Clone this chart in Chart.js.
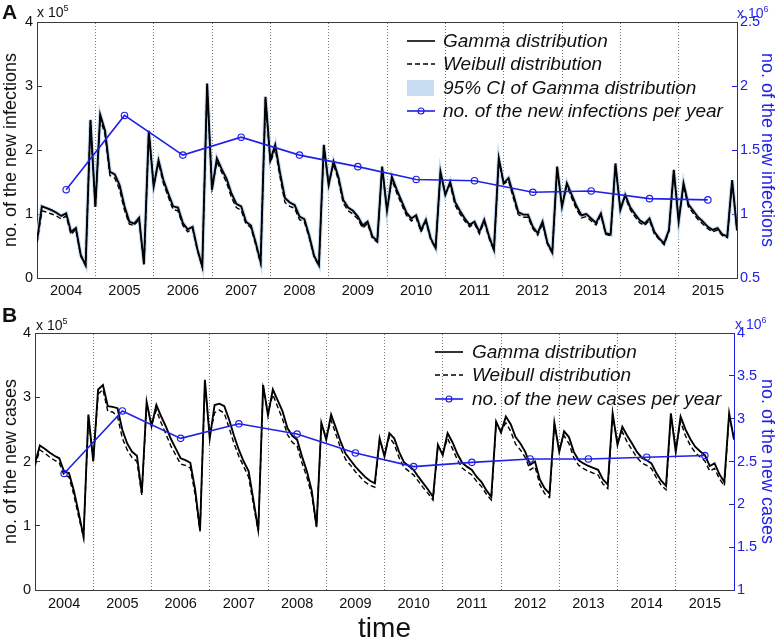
<!DOCTYPE html>
<html>
<head>
<meta charset="utf-8">
<script src="https://cdn.jsdelivr.net/npm/chart.js@4.4.0/dist/chart.umd.min.js"></script>
<style>
  body { margin: 0; background: #fff; font-family: "Liberation Sans", Arial, sans-serif; }
  #wrap { position: relative; width: 778px; height: 644px; overflow: hidden; }
  canvas { position: absolute; left: 0; }
  #cA { top: 0; }
  #cB { top: 300px; }
  .txt { position: absolute; white-space: nowrap; color: #111; }
  .pan { font-weight: bold; font-size: 21px; }
  .exp { font-size: 14px; }
  .exp sup { font-size: 9px; }
  .blue { color: #2a2aee; }
  .leg { position: absolute; font-style: italic; font-size: 19px; color: #111; }
  .leg div { height: 23.5px; display: flex; align-items: center; }
  .leg svg { flex: none; }
</style>
</head>
<body>
<div id="wrap">
  <canvas id="cA" width="778" height="300"></canvas>
  <canvas id="cB" width="778" height="344"></canvas>

  <div class="txt pan" style="left:2px;top:0px">A</div>
  <div class="txt pan" style="left:2px;top:303px">B</div>
  <div class="txt exp" style="left:37px;top:3px">x 10<sup>5</sup></div>
  <div class="txt exp blue" style="left:737px;top:4px">x 10<sup>6</sup></div>
  <div class="txt exp" style="left:36px;top:316px">x 10<sup>5</sup></div>
  <div class="txt exp blue" style="left:735px;top:315px">x 10<sup>6</sup></div>

  <div class="leg" style="left:405px;top:29px">
    <div><svg width="38" height="20"><line x1="2" y1="10" x2="30" y2="10" stroke="#000" stroke-width="1.6"/></svg><span>Gamma distribution</span></div>
    <div><svg width="38" height="20"><line x1="2" y1="10" x2="30" y2="10" stroke="#000" stroke-width="1.4" stroke-dasharray="5,3"/></svg><span>Weibull distribution</span></div>
    <div><svg width="38" height="20"><rect x="2" y="2" width="27" height="16" fill="#c8dcf2"/></svg><span>95% CI of Gamma distribution</span></div>
    <div><svg width="38" height="20"><line x1="2" y1="10" x2="30" y2="10" stroke="#2020e8" stroke-width="1.6"/><circle cx="16" cy="10" r="3" fill="none" stroke="#2020e8" stroke-width="1.2"/></svg><span>no. of the new infections per year</span></div>
  </div>

  <div class="leg" style="left:433px;top:340px">
    <div><svg width="39" height="20"><line x1="2" y1="10" x2="30" y2="10" stroke="#000" stroke-width="1.6"/></svg><span>Gamma distribution</span></div>
    <div><svg width="39" height="20"><line x1="2" y1="10" x2="30" y2="10" stroke="#000" stroke-width="1.4" stroke-dasharray="5,3"/></svg><span>Weibull distribution</span></div>
    <div><svg width="39" height="20"><line x1="2" y1="10" x2="30" y2="10" stroke="#2020e8" stroke-width="1.6"/><circle cx="16" cy="10" r="3" fill="none" stroke="#2020e8" stroke-width="1.2"/></svg><span>no. of the new cases per year</span></div>
  </div>
</div>

<script>
// monthly values, index 0 = Jan 2004 ... 144 = Jan 2016
// panel A: new infections (x 10^5)
const gammaA = [
  0.58,1.12,1.09,1.06,1.02,0.97,1.01,0.72,0.78,0.36,0.20,2.47,
  1.11,2.55,2.30,1.66,1.62,1.45,1.12,0.88,0.85,0.94,0.22,2.30,
  1.43,1.84,1.53,1.32,1.12,1.10,0.86,0.76,0.80,0.45,0.18,3.04,
  1.38,1.87,1.70,1.55,1.32,1.16,1.12,0.88,0.82,0.55,0.25,2.83,
  1.84,2.08,1.64,1.25,1.18,1.14,0.96,0.92,0.66,0.35,0.20,2.08,
  1.45,1.82,1.58,1.22,1.10,1.05,0.96,0.82,0.88,0.65,0.58,1.74,
  1.05,1.58,1.38,1.20,1.02,0.93,0.98,0.75,0.91,0.62,0.47,1.66,
  1.30,1.50,1.19,1.05,0.93,0.83,0.88,0.72,0.91,0.65,0.44,1.87,
  1.48,1.56,1.30,1.03,0.99,0.99,0.80,0.70,0.88,0.55,0.40,1.74,
  1.11,1.48,1.30,1.12,0.98,1.00,0.93,0.86,1.01,0.70,0.68,1.79,
  1.06,1.30,1.11,1.00,0.90,0.85,0.93,0.72,0.62,0.54,0.75,1.69,
  0.88,1.48,1.15,1.05,0.95,0.88,0.80,0.75,0.78,0.68,0.65,1.53,
  0.75
];
const weibullA = [
  0.55,1.05,1.03,1.00,0.97,0.92,0.97,0.68,0.76,0.34,0.20,2.45,
  1.12,2.50,2.24,1.60,1.56,1.38,1.06,0.84,0.82,0.92,0.21,2.28,
  1.45,1.80,1.48,1.27,1.07,1.05,0.82,0.72,0.77,0.43,0.17,3.00,
  1.40,1.82,1.65,1.49,1.26,1.10,1.06,0.84,0.79,0.52,0.23,2.80,
  1.80,2.02,1.58,1.18,1.12,1.09,0.91,0.88,0.63,0.33,0.19,2.05,
  1.48,1.78,1.53,1.17,1.05,1.00,0.92,0.78,0.85,0.62,0.56,1.72,
  1.08,1.54,1.33,1.15,0.98,0.89,0.94,0.72,0.88,0.60,0.46,1.64,
  1.32,1.46,1.14,1.00,0.89,0.80,0.85,0.69,0.88,0.62,0.43,1.84,
  1.47,1.52,1.25,0.99,0.95,0.95,0.77,0.67,0.85,0.53,0.39,1.72,
  1.14,1.45,1.25,1.07,0.94,0.96,0.89,0.83,0.98,0.68,0.66,1.76,
  1.09,1.27,1.07,0.96,0.86,0.82,0.90,0.69,0.60,0.52,0.73,1.66,
  0.92,1.44,1.11,1.01,0.91,0.84,0.77,0.72,0.75,0.66,0.63,1.50,
  0.74
];
// panel B: new cases (x 10^5)
const gammaB = [
  1.97,2.25,2.20,2.14,2.09,2.05,1.84,1.82,1.55,1.20,0.83,2.73,
  2.00,3.12,3.19,2.86,2.85,2.83,2.49,2.28,2.15,2.09,1.51,2.93,
  2.55,2.88,2.70,2.54,2.35,2.20,2.05,2.02,1.98,1.56,0.93,3.27,
  2.36,2.88,2.90,2.86,2.65,2.40,2.18,2.00,1.85,1.40,0.93,3.19,
  2.72,3.12,2.95,2.78,2.52,2.40,2.34,2.08,1.85,1.55,0.99,2.60,
  2.34,2.73,2.52,2.30,2.12,2.02,1.92,1.84,1.76,1.70,1.66,2.36,
  2.08,2.44,2.36,2.15,1.99,1.93,1.87,1.76,1.66,1.56,1.45,2.26,
  2.10,2.44,2.30,2.12,1.98,1.92,1.87,1.76,1.68,1.55,1.45,2.62,
  2.45,2.70,2.58,2.38,2.28,2.15,1.95,2.00,1.72,1.58,1.50,2.60,
  2.15,2.47,2.38,2.15,2.02,1.97,1.93,1.90,1.87,1.72,1.64,2.75,
  2.26,2.54,2.40,2.28,2.15,2.06,2.02,1.97,1.82,1.70,1.62,2.75,
  2.15,2.70,2.50,2.35,2.23,2.16,2.10,1.93,1.97,1.80,1.68,2.75,
  2.34
];
const weibullB = [
  1.93,2.18,2.13,2.07,2.02,1.98,1.78,1.76,1.48,1.14,0.82,2.70,
  2.02,3.05,3.12,2.78,2.77,2.70,2.36,2.18,2.06,2.00,1.48,2.90,
  2.58,2.80,2.60,2.42,2.24,2.10,1.96,1.94,1.90,1.48,0.91,3.22,
  2.40,2.76,2.80,2.75,2.52,2.28,2.08,1.92,1.76,1.33,0.91,3.15,
  2.76,3.04,2.85,2.66,2.42,2.30,2.24,1.98,1.76,1.48,0.98,2.58,
  2.38,2.64,2.42,2.20,2.03,1.94,1.84,1.76,1.68,1.63,1.60,2.34,
  2.12,2.38,2.27,2.06,1.91,1.85,1.79,1.69,1.59,1.50,1.40,2.24,
  2.14,2.36,2.20,2.03,1.90,1.84,1.79,1.69,1.61,1.49,1.40,2.60,
  2.48,2.60,2.47,2.27,2.18,2.06,1.87,1.92,1.64,1.50,1.44,2.58,
  2.20,2.40,2.28,2.06,1.94,1.89,1.85,1.82,1.79,1.65,1.58,2.72,
  2.30,2.46,2.30,2.18,2.06,1.98,1.94,1.89,1.75,1.63,1.56,2.72,
  2.20,2.62,2.40,2.25,2.14,2.07,2.01,1.85,1.89,1.73,1.62,2.72,
  2.36
];

const years = [2004,2005,2006,2007,2008,2009,2010,2011,2012,2013,2014,2015];
// yearly totals (x 10^6), plotted at mid-year
const infectionsPerYear = [1.19,1.77,1.46,1.60,1.46,1.37,1.27,1.26,1.17,1.18,1.12,1.11];
const casesPerYear = [2.36,3.09,2.77,2.94,2.82,2.60,2.44,2.49,2.53,2.53,2.55,2.57];

const ticksLeft = [0,1,2,3,4];
const ticksRightA = [0.5,1,1.5,2,2.5];
const ticksRightB = [1,1.5,2,2.5,3,3.5,4];

const BLUE = '#2020e8';
const AXIS = '#3a3a3a';
const FONT = '"Liberation Sans", Arial, sans-serif';

const midYear = years.map((y, k) => 6 + 12 * k);
const yearEdge = years.slice(1).map((y, k) => 12 * (k + 1));
const pts = arr => arr.map((v, i) => ({x: i, y: v}));

function makePanel(id, o) {
  const datasets = [
    {
      label: o.yearLabel, data: o.yearly.map((v, k) => ({x: midYear[k], y: v})),
      yAxisID: 'y2', borderColor: BLUE, borderWidth: 1.6,
      pointRadius: 3.2, pointBorderWidth: 1.2, pointBorderColor: BLUE,
      pointBackgroundColor: 'rgba(0,0,0,0)', tension: 0
    },
    {
      label: 'Gamma distribution', data: pts(o.gamma), yAxisID: 'y',
      borderColor: '#000', borderWidth: 1.9, pointRadius: 0, tension: 0
    },
    {
      label: 'Weibull distribution', data: pts(o.weibull), yAxisID: 'y',
      borderColor: '#000', borderWidth: 1.4, borderDash: [5, 3], pointRadius: 0, tension: 0
    }
  ];
  if (o.ci) {
    datasets.push({
      label: '95% CI of Gamma distribution', data: pts(o.gamma), yAxisID: 'y',
      borderColor: '#c8dcf2', borderWidth: 4, pointRadius: 0, tension: 0
    });
  }

  return new Chart(document.getElementById(id), {
    type: 'line',
    data: {datasets: datasets},
    options: {
      responsive: false,
      animation: false,
      layout: {padding: 0},
      plugins: {legend: {display: false}, tooltip: {enabled: false}},
      scales: {
        x: {
          type: 'linear', position: 'bottom', min: 0, max: 144,
          afterBuildTicks: s => { s.ticks = midYear.map(v => ({value: v})); },
          afterFit: s => { s.height = o.bottomH; },
          ticks: {
            autoSkip: false, maxRotation: 0, padding: o.xPad, color: '#111',
            font: {family: FONT, size: 14.5},
            callback: v => years[Math.round((v - 6) / 12)]
          },
          grid: {display: false, drawTicks: false},
          border: {color: AXIS},
          title: {display: !!o.xTitle, text: o.xTitle || '', color: '#111',
                  font: {family: FONT, size: 28, lineHeight: 1.0}, padding: {top: 0, bottom: 1}}
        },
        xTop: {
          type: 'linear', position: 'top', min: 0, max: 144,
          afterBuildTicks: s => { s.ticks = yearEdge.map(v => ({value: v})); },
          afterFit: s => { s.height = o.topH; },
          ticks: {display: false},
          grid: {color: '#777', lineWidth: 1, drawTicks: false},
          border: {color: AXIS, dash: [1, 2]}
        },
        y: {
          position: 'left', min: 0, max: 4,
          afterBuildTicks: s => { s.ticks = ticksLeft.map(v => ({value: v})); },
          afterFit: s => { s.width = o.leftW; },
          ticks: {color: '#111', font: {family: FONT, size: 14.5}, padding: 9},
          grid: {drawOnChartArea: false, drawTicks: true, tickLength: -5, tickColor: AXIS},
          border: {color: AXIS},
          title: {display: true, text: o.leftTitle, color: '#111',
                  font: {family: FONT, size: 18}, padding: 0}
        },
        y2: {
          position: 'right', min: o.rightTicks[0], max: o.rightTicks[o.rightTicks.length - 1],
          afterBuildTicks: s => { s.ticks = o.rightTicks.map(v => ({value: v})); },
          afterFit: s => { s.width = o.rightW; },
          ticks: {color: BLUE, font: {family: FONT, size: 14.5}, padding: 8,
                  callback: v => String(v)},
          grid: {drawOnChartArea: false, drawTicks: true, tickLength: -5, tickColor: BLUE},
          border: {color: BLUE},
          title: {display: true, text: o.rightTitle, color: BLUE,
                  font: {family: FONT, size: 18}, padding: 0}
        }
      }
    }
  });
}

makePanel('cA', {
  gamma: gammaA, weibull: weibullA, yearly: infectionsPerYear, ci: true,
  yearLabel: 'no. of the new infections per year',
  leftTitle: 'no. of the new infections', rightTitle: 'no. of the new infections',
  rightTicks: ticksRightA,
  topH: 22, bottomH: 22, leftW: 37, rightW: 41, xPad: 4
});

makePanel('cB', {
  gamma: gammaB, weibull: weibullB, yearly: casesPerYear, ci: false,
  yearLabel: 'no. of the new cases per year',
  leftTitle: 'no. of the new cases', rightTitle: 'no. of the new cases',
  rightTicks: ticksRightB, xTitle: 'time',
  topH: 33, bottomH: 54, leftW: 35, rightW: 44, xPad: 5
});
</script>
</body>
</html>
